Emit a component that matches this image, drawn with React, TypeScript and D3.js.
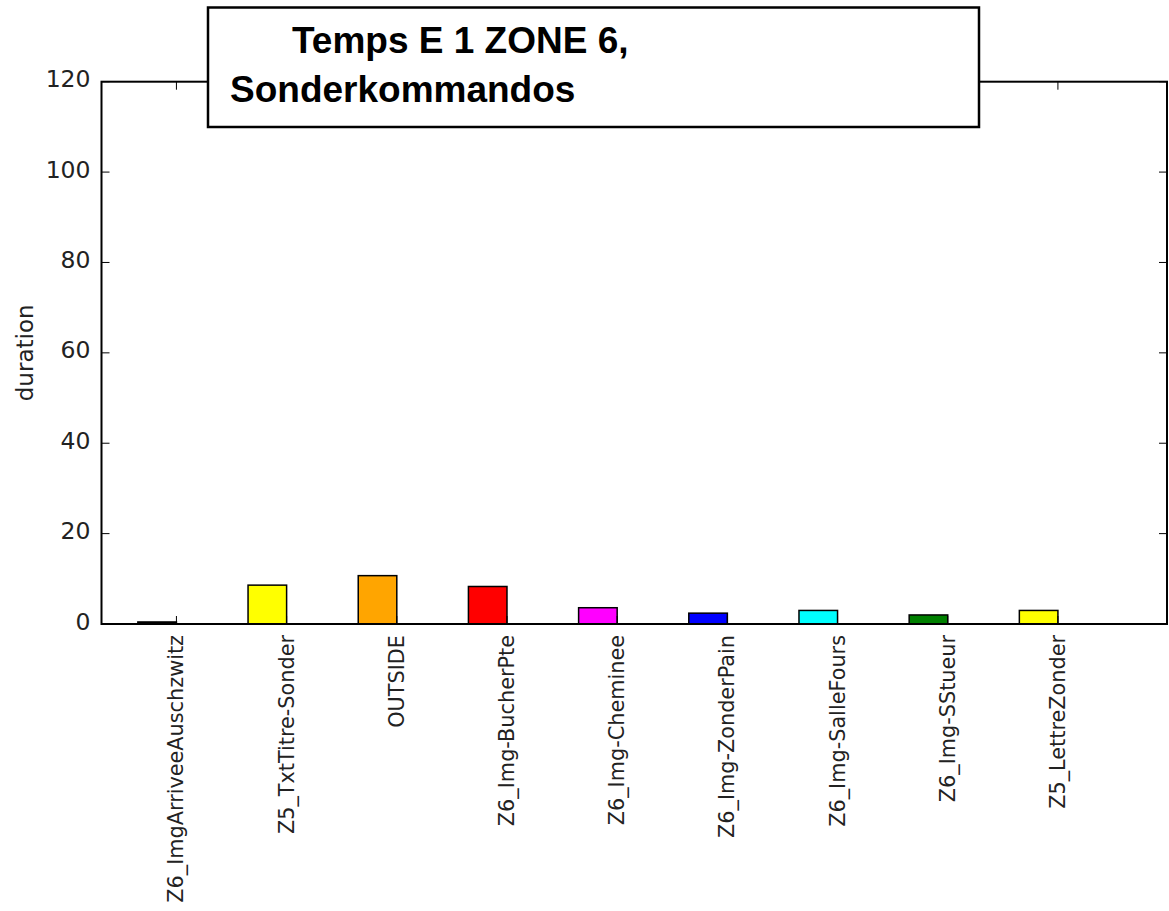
import React from "react";
import * as d3 from "d3";

const categories = [
  "Z6_ImgArriveeAuschzwitz",
  "Z5_TxtTitre-Sonder",
  "OUTSIDE",
  "Z6_Img-BucherPte",
  "Z6_Img-Cheminee",
  "Z6_Img-ZonderPain",
  "Z6_Img-SalleFours",
  "Z6_Img-SStueur",
  "Z5_LettreZonder",
];
const durations = [0.45, 8.6, 10.7, 8.3, 3.6, 2.4, 3.0, 2.0, 3.0];
const barColors = ["#000000", "#ffff00", "#ffa500", "#ff0000", "#ff00ff", "#0000ff", "#00ffff", "#008000", "#ffff00"];
const yTicks = [0, 20, 40, 60, 80, 100, 120];
const titleLines = ["Temps E 1 ZONE 6,", "Sonderkommandos"];
const yLabel = "duration";

const W = 1169;
const H = 911;
const left = 101.5;
const right = 1167;
const top = 81.7;
const bottom = 624;
const barW = 0.35;

export default function App() {
  const x = d3.scaleLinear().domain([-0.33, 9.34]).range([left, right]);
  const y = d3.scaleLinear().domain([0, 120]).range([bottom, top]);
  const tickFont = "'DejaVu Sans', sans-serif";
  return (
    <svg
      width={W}
      height={H}
      style={{ position: "absolute", left: 0, top: 0, background: "#fff" }}
    >
      {/* bars */}
      {durations.map((d, i) => (
        <rect
          key={i}
          x={x(i)}
          y={y(d)}
          width={x(i + barW) - x(i)}
          height={y(0) - y(d)}
          fill={barColors[i]}
          stroke="#000"
          strokeWidth={1.5}
        />
      ))}
      {/* frame */}
      <rect x={left} y={top} width={right - left} height={bottom - top} fill="none" stroke="#000" strokeWidth={2} />
      {/* y ticks */}
      {yTicks.map((t) => (
        <g key={t}>
          <line x1={left} x2={left + 8} y1={y(t)} y2={y(t)} stroke="#000" strokeWidth={1} />
          <line x1={right} x2={right - 8} y1={y(t)} y2={y(t)} stroke="#000" strokeWidth={1} />
          <text
            x={left - 11}
            y={y(t) - 2.5}
            textAnchor="end"
            dominantBaseline="central"
            fontFamily={tickFont}
            fontSize={23.5}
            fill="#222"
          >
            {t}
          </text>
        </g>
      ))}
      {/* x ticks */}
      {categories.map((c, i) => {
        const tx = x(i + barW);
        return (
          <g key={c}>
            <line x1={tx} x2={tx} y1={bottom} y2={bottom - 8} stroke="#000" strokeWidth={1} />
            <line x1={tx} x2={tx} y1={top} y2={top + 8} stroke="#000" strokeWidth={1} />
            <text
              transform={`translate(${tx},${bottom + 11}) rotate(-90)`}
              textAnchor="end"
              dominantBaseline="central"
              fontFamily={tickFont}
              fontSize={20.8}
              fill="#222"
            >
              {c}
            </text>
          </g>
        );
      })}
      {/* y label */}
      <text
        transform={`translate(33,${(top + bottom) / 2}) rotate(-90)`}
        textAnchor="middle"
        fontFamily={tickFont}
        fontSize={23}
        fill="#222"
      >
        {yLabel}
      </text>
      {/* title box */}
      <rect x={208} y={7.5} width={771} height={119.5} fill="#fff" stroke="#000" strokeWidth={2.5} />
      <text x={292} y={53} fontFamily="'Liberation Sans', Arial, sans-serif" fontWeight="bold" fontSize={37} fill="#000">
        {titleLines[0]}
      </text>
      <text x={230} y={101.5} fontFamily="'Liberation Sans', Arial, sans-serif" fontWeight="bold" fontSize={37} fill="#000">
        {titleLines[1]}
      </text>
    </svg>
  );
}
